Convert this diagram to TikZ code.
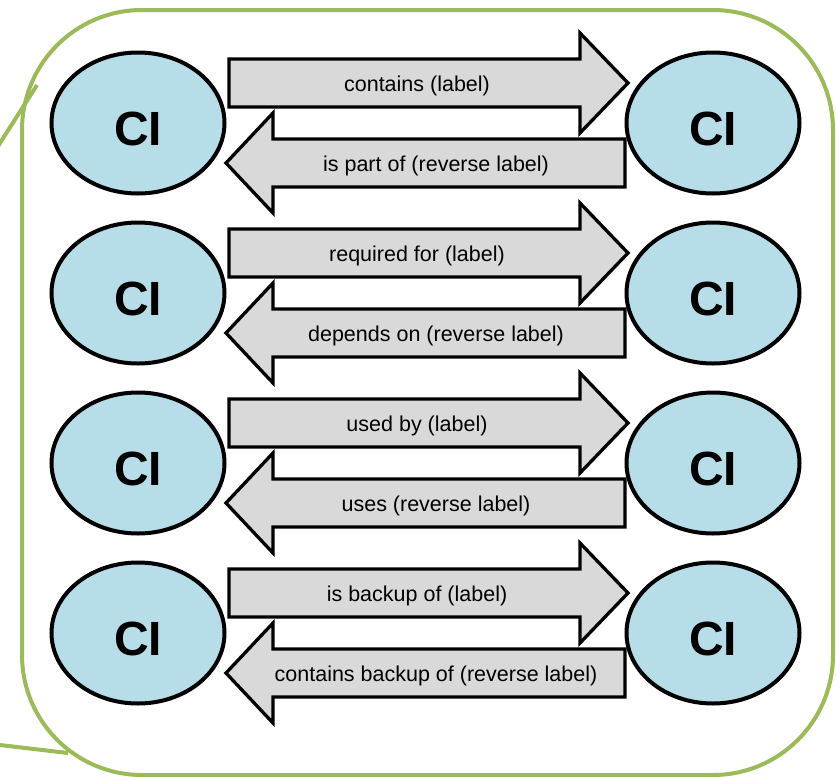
\documentclass[tikz,border=0pt]{standalone}
\usepackage{fontspec}
\setmainfont{Liberation Sans}
\usetikzlibrary{shapes.geometric}

\definecolor{calloutgreen}{HTML}{9BBB59}
\definecolor{cifill}{HTML}{B7DEE8}
\definecolor{arrowfill}{HTML}{D9D9D9}

\tikzset{
  ci/.style={ellipse, draw=black, line width=4pt, fill=cifill,
    minimum width=173pt, minimum height=141pt, inner sep=0pt},
  citext/.style={inner sep=0pt, font=\fontsize{48}{48}\selectfont\bfseries},
  blockarrow/.style={draw=black, line width=3.3pt, fill=arrowfill, line join=miter},
  arrowtext/.style={inner sep=0pt, font=\fontsize{21.5}{26}\selectfont},
  callout/.style={draw=calloutgreen, line width=4pt},
}

\begin{document}
\begin{tikzpicture}[x=1pt,y=-1pt]
\useasboundingbox (0,0) rectangle (836,777);
\clip (0,0) rectangle (836,777);

% callout frame with its pointer running off to the left
\draw[callout, rounded corners=120pt] (22,10) rectangle (833,775);
\coordinate (tip) at (-357,703);
\coordinate (ptop) at (37,85);
\coordinate (pbot) at (68,753);
\draw[callout] (tip) -- (ptop);
\draw[callout] (tip) -- (pbot);

% one row per relationship: forward arrow, reverse arrow, two CIs
\foreach \k/\lab/\rev in {
  0/{contains (label)}/{is part of (reverse label)},
  1/{required for (label)}/{depends on (reverse label)},
  2/{used by (label)}/{uses (reverse label)},
  3/{is backup of (label)}/{contains backup of (reverse label)}} {
  \pgfmathsetmacro\u{83+170*\k}
  \pgfmathsetmacro\l{163+170*\k}
  \pgfmathsetmacro\m{123+170*\k}
  % forward (right-pointing) arrow
  \draw[blockarrow] (229,\u-24) -- (580,\u-24) -- (580,\u-50) -- (628,\u)
    -- (580,\u+50) -- (580,\u+24) -- (229,\u+24) -- cycle;
  \node[arrowtext] (fwd\k) at (417,\u+3) {\lab};
  % reverse (left-pointing) arrow
  \draw[blockarrow] (625,\l-24) -- (273,\l-24) -- (273,\l-50) -- (226,\l)
    -- (273,\l+50) -- (273,\l+24) -- (625,\l+24) -- cycle;
  \node[arrowtext] (rev\k) at (436,\l+3) {\rev};
  % configuration items
  \node[ci] (left\k) at (138,\m) {};
  \node[citext] (lefttxt\k) at ([yshift=-6pt]left\k.center) {CI};
  \node[ci] (right\k) at (713,\m) {};
  \node[citext] (righttxt\k) at ([yshift=-6pt]right\k.center) {CI};
}
\end{tikzpicture}
\end{document}
